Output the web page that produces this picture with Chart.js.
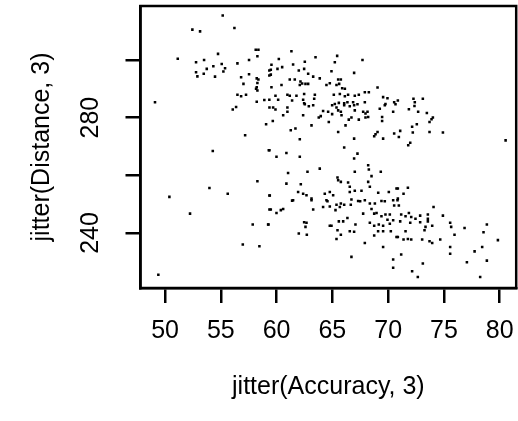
<!DOCTYPE html>
<html>
<head>
<meta charset="utf-8">
<script src="https://cdn.jsdelivr.net/npm/chart.js@4.4.0/dist/chart.umd.min.js"></script>
<style>
  html, body { margin: 0; padding: 0; background: #fff; }
  canvas { display: block; }
</style>
</head>
<body>
<canvas id="plot" width="518" height="421"></canvas>
<script>
// jittered driving accuracy (%) vs distance (yd)
const accuracy = [
  55.17, 52.45, 53.14, 56.22, 58.13, 58.37, 58.28, 51.14, 54.75, 53.50,
  52.78, 54.33, 53.74, 55.08, 55.38, 55.23, 52.78, 52.90, 53.47, 54.48,
  56.49, 57.53, 56.82, 57.53, 58.22, 58.37, 58.28, 58.22, 58.16, 58.28,
  59.35, 59.35, 57.03, 56.49, 56.82, 57.26, 58.22, 58.90, 59.35, 49.10,
  61.33, 60.20, 62.53, 63.49, 65.43, 67.70, 65.22, 59.54, 59.48, 59.48,
  60.08, 60.50, 61.48, 61.99, 62.47, 62.83, 63.28, 63.87, 64.92, 66.95,
  61.18, 61.63, 62.14, 62.08, 62.29, 62.59, 62.83, 60.44, 59.54, 64.47,
  64.77, 65.52, 65.76, 65.37, 65.61, 65.88, 66.12, 69.05, 59.90, 60.14,
  60.97, 61.18, 61.78, 62.47, 62.38, 62.47, 63.43, 63.37, 65.13, 65.67,
  66.12, 66.41, 67.01, 67.37, 67.91, 68.27, 69.55, 69.94, 61.39, 65.22,
  65.58, 66.06, 66.35, 66.86, 67.91, 69.76, 70.54,
  70.87, 72.27, 73.11, 72.39,
  56.07, 56.37, 59.36, 59.06, 57.18, 59.36, 54.28, 58.28, 53.98, 55.62,
  50.39, 59.36,
  59.69, 59.90, 60.97, 60.97, 60.59, 62.38, 62.53, 62.89, 63.28, 64.17,
  64.62, 64.98, 65.37, 65.52, 65.76, 66.06, 66.56, 66.95, 67.01, 67.25,
  67.76, 67.97, 68.15, 69.25, 69.70, 70.45, 70.66, 63.96, 63.78, 64.98,
  65.82, 66.47, 66.71, 67.37, 66.18, 64.68, 63.13, 67.97, 68.21, 69.46,
  69.46, 59.66, 61.27, 61.69, 62.08, 65.52, 66.95, 68.75, 68.87, 69.05,
  69.55, 70.54, 66.06, 59.30, 59.99, 60.88, 62.08, 67.25, 66.95, 68.21,
  68.27, 63.87, 62.77, 61.03, 68.51, 69.34, 67.01, 65.46, 65.52, 65.76,
  66.41, 66.56, 68.21, 68.36, 60.88, 62.17, 61.93, 62.38, 62.68, 63.13,
  64.32, 64.77, 65.07, 66.56, 67.01, 67.61, 69.11, 70.06, 70.75, 59.39,
  61.48, 64.47, 66.71, 67.31, 67.91, 69.40, 70.45,
  71.86, 72.36, 72.69, 73.47, 74.01, 73.89, 73.71, 72.57, 72.15, 71.08,
  70.96, 72.21, 73.71, 74.91, 71.98, 71.80, 80.53, 70.87, 71.77, 71.38,
  70.87,
  52.24, 57.86, 59.27, 59.36, 56.97, 58.46, 49.40,
  59.48, 59.99, 60.59, 60.38, 59.24, 61.39, 62.47, 62.68, 62.59, 61.99,
  62.71, 63.28, 63.13, 64.17, 64.56, 64.77, 65.37, 65.67, 65.76, 66.06,
  66.65, 67.49, 68.36, 68.81, 69.70, 70.54, 70.84, 65.28, 66.35, 64.77,
  64.92, 65.58, 65.97, 67.07, 65.46, 66.56, 66.95, 65.76, 65.37, 67.76,
  68.51, 68.75, 68.96, 69.40, 69.76, 69.94, 70.15, 68.36, 68.75, 69.16,
  69.55, 69.10, 69.55, 70.15, 70.45, 70.24, 68.75, 67.91, 69.55, 70.75,
  66.71, 70.45, 70.45,
  70.96, 71.17, 71.56, 71.86, 72.07, 71.08, 71.98, 72.45, 72.87, 73.56,
  73.56, 73.56, 74.07, 74.91, 73.35, 73.26, 73.95, 72.87, 71.56, 70.87,
  71.38, 71.77, 72.07, 73.05, 73.71, 73.95, 74.67, 75.56, 75.65, 75.95,
  75.56, 75.56, 76.85, 78.55, 78.85, 79.84, 78.43, 77.75, 71.17, 77.06,
  78.85, 73.11, 72.15, 72.66, 78.25
];
const distance = [
  315.4, 310.5, 309.9, 311.1, 303.5, 303.5, 301.3, 300.4, 302.1, 300.0,
  299.2, 297.8, 296.9, 298.6, 297.1, 296.0, 295.7, 294.3, 295.2, 294.2,
  298.8, 300.0, 294.0, 295.0, 293.6, 293.2, 292.0, 290.5, 290.0, 289.4,
  296.3, 294.6, 291.7, 287.9, 287.4, 287.9, 285.5, 286.1, 286.2, 285.3,
  303.0, 300.3, 299.4, 300.9, 301.4, 300.0, 299.2, 298.3, 296.6, 294.9,
  296.9, 297.5, 298.4, 296.3, 296.9, 295.2, 294.2, 293.6, 296.1, 295.5,
  293.2, 293.2, 292.5, 291.3, 291.8, 291.7, 291.7, 291.3, 290.5, 291.3,
  291.9, 293.2, 293.2, 291.3, 291.7, 290.2, 290.0, 290.4, 287.6, 286.2,
  287.9, 287.6, 287.6, 288.2, 286.2, 285.0, 287.9, 286.5, 287.9, 288.2,
  287.4, 287.9, 287.6, 287.9, 288.8, 288.8, 287.1, 286.7, 285.9, 284.7,
  285.1, 285.0, 285.3, 285.3, 285.3, 284.7, 285.3,
  285.9, 286.5, 286.5, 285.3,
  282.8, 283.7, 283.5, 277.7, 273.9, 268.7, 268.4, 257.9, 255.6, 253.6,
  252.5, 253.0,
  283.5, 282.8, 283.5, 282.0, 280.8, 280.8, 284.6, 283.9, 284.3, 282.3,
  282.0, 284.3, 283.5, 282.5, 282.0, 284.3, 283.9, 284.3, 282.5, 284.6,
  282.0, 281.4, 282.0, 283.1, 284.3, 282.0, 284.6, 280.5, 280.0, 281.2,
  280.8, 279.3, 280.0, 279.3, 277.3, 278.5, 277.3, 280.0, 280.2, 280.2,
  278.8, 278.8, 275.6, 276.2, 272.5, 275.0, 272.7, 273.5, 274.2, 275.0,
  272.7, 274.5, 269.6, 268.7, 266.4, 267.7, 266.4, 267.5, 265.8, 263.5,
  262.0, 262.3, 261.2, 260.8, 259.7, 261.2, 261.2, 259.2, 258.3, 257.7,
  257.5, 256.0, 257.7, 256.0, 257.1, 256.9, 254.2, 253.6, 253.1, 251.9,
  253.6, 254.2, 253.1, 254.2, 254.6, 254.6, 253.9, 254.2, 255.4, 253.0,
  251.3, 251.3, 251.6, 251.1, 251.3, 251.1, 251.3,
  282.9, 284.0, 282.0, 281.6, 280.0, 279.4, 278.5, 277.7, 276.8, 275.4,
  273.3, 274.8, 275.0, 274.8, 271.3, 270.4, 272.1, 255.4, 255.7, 253.6,
  251.9,
  246.7, 242.9, 242.9, 248.1, 236.0, 235.4, 225.5,
  248.1, 246.9, 248.3, 247.9, 242.9, 251.2, 243.7, 243.5, 242.1, 239.8,
  239.4, 248.1, 251.3, 249.0, 251.0, 249.2, 249.8, 249.0, 250.2, 249.8,
  249.8, 251.0, 250.2, 250.2, 251.0, 249.5, 251.3, 247.9, 245.2, 242.5,
  242.5, 244.0, 244.0, 242.9, 240.9, 240.6, 240.4, 239.4, 237.9, 246.7,
  248.3, 246.7, 246.9, 245.8, 246.4, 244.6, 246.4, 243.5, 242.5, 242.9,
  242.5, 240.6, 240.6, 243.2, 244.4, 240.6, 239.1, 236.5, 235.1, 238.6,
  231.7, 230.8, 227.9,
  249.5, 246.4, 245.8, 246.9, 245.5, 244.0, 243.5, 244.9, 246.0, 246.4,
  244.9, 244.0, 249.0, 246.0, 242.1, 240.9, 242.5, 243.7, 240.6, 238.6,
  237.7, 237.9, 237.7, 237.7, 237.1, 236.5, 237.7, 243.5, 242.1, 239.4,
  235.1, 232.8, 241.7, 240.2, 242.9, 237.5, 235.1, 233.6, 232.5, 229.8,
  230.4, 229.4, 226.7, 224.7, 224.7
];
const xTicks = [50, 55, 60, 65, 70, 75, 80];
const yTicks = [240, 260, 280, 300];
const yLabels = [240, 280]; // only these two are labelled in the original

const FONT = '"Liberation Sans", Arial, sans-serif';
const FONT_SIZE = 25;
const points = accuracy.map((a, i) => ({ x: a, y: distance[i] }));

// full box round the plot region, plus the y labels turned parallel to the axis
const boxPlugin = {
  id: 'rbox',
  afterDraw(chart) {
    const { ctx, chartArea: a, scales } = chart;
    ctx.save();
    ctx.strokeStyle = '#000';
    ctx.lineWidth = 2.5;
    ctx.strokeRect(a.left, a.top, a.right - a.left, a.bottom - a.top);
    ctx.fillStyle = '#000';
    ctx.font = FONT_SIZE + 'px ' + FONT;
    ctx.textAlign = 'center';
    ctx.textBaseline = 'bottom';
    yLabels.forEach(v => {
      ctx.save();
      ctx.translate(104, scales.y.getPixelForValue(v));
      ctx.rotate(-Math.PI / 2);
      ctx.fillText(String(v), 0, 0);
      ctx.restore();
    });
    ctx.restore();
  }
};

new Chart(document.getElementById('plot'), {
  type: 'scatter',
  data: {
    datasets: [{
      data: points,
      pointStyle: 'rect',
      pointRadius: 1.8,
      pointHoverRadius: 1.8,
      backgroundColor: '#000',
      borderWidth: 0
    }]
  },
  options: {
    responsive: false,
    animation: false,
    devicePixelRatio: 1,
    layout: { padding: { top: 6, right: 1.5, left: 0, bottom: 0 } },
    plugins: { legend: { display: false }, tooltip: { enabled: false } },
    scales: {
      x: {
        type: 'linear',
        min: 47.8,
        max: 81.48,
        afterBuildTicks: s => { s.ticks = xTicks.map(v => ({ value: v })); },
        afterFit: s => {
          s.height = 133;
          // labels at the ends must not shrink the plot region
          s.paddingLeft = 0;
          s.paddingRight = 0;
        },
        grid: { drawOnChartArea: false, tickLength: 15, color: '#000', lineWidth: 2.5 },
        border: { display: true, color: '#000', width: 2.5 },
        ticks: { color: '#000', font: { family: FONT, size: FONT_SIZE }, padding: 13, maxRotation: 0, autoSkip: false },
        title: {
          display: true, text: 'jitter(Accuracy, 3)', color: '#000',
          font: { family: FONT, size: FONT_SIZE }, padding: { bottom: 19 }
        }
      },
      y: {
        type: 'linear',
        min: 220.9,
        max: 318.7,
        afterBuildTicks: s => { s.ticks = yTicks.map(v => ({ value: v })); },
        afterFit: s => {
          s.width = 140.5;
          s.paddingTop = 0;
          s.paddingBottom = 0;
        },
        grid: { drawOnChartArea: false, tickLength: 15, color: '#000', lineWidth: 2.5 },
        border: { display: true, color: '#000', width: 2.5 },
        ticks: { display: false },
        title: {
          display: true, text: 'jitter(Distance, 3)', color: '#000',
          font: { family: FONT, size: FONT_SIZE }, padding: { top: 27 }
        }
      }
    }
  },
  plugins: [boxPlugin]
});
</script>
</body>
</html>
